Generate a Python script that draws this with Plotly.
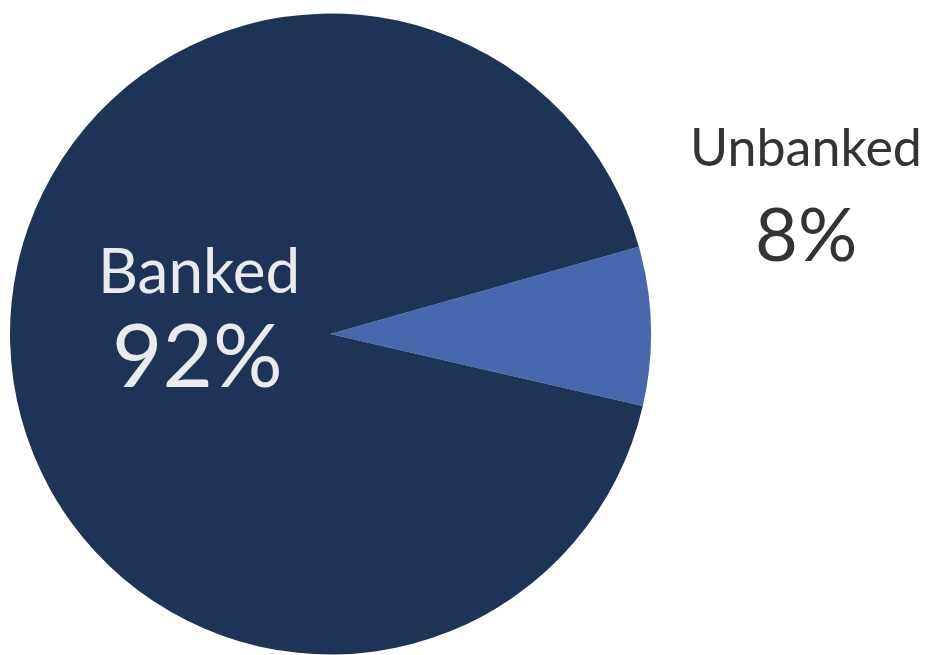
import plotly.graph_objects as go

labels = ["Unbanked", "Banked"]
values = [8, 92]
colors = ["#4868ad", "#1e3457"]

fig = go.Figure(go.Pie(
    labels=labels,
    values=values,
    marker=dict(colors=colors, line=dict(width=0)),
    sort=False,
    direction="clockwise",
    rotation=74.2,
    textinfo="none",
    hoverinfo="label+percent",
    domain=dict(x=[10 / 927, 651 / 927], y=[0.0, 642 / 655]),
    showlegend=False,
))

font_family = "Lato"
annots = [
    dict(idx=1, x=199 / 927, y=1 - 269 / 655, size=62, color="#e8ecf1", big=False),
    dict(idx=1, x=197 / 927, y=1 - 354 / 655, size=87, color="#e8ecf1", big=True),
    dict(idx=0, x=806 / 927, y=1 - 146 / 655, size=52, color="#333333", big=False),
    dict(idx=0, x=806 / 927, y=1 - 232 / 655, size=74, color="#333333", big=True),
]
for a in annots:
    txt = f"{values[a['idx']]}%" if a["big"] else labels[a["idx"]]
    fig.add_annotation(x=a["x"], y=a["y"], xref="paper", yref="paper",
                       text=txt, showarrow=False, xanchor="center", yanchor="middle",
                       font=dict(family=font_family, size=a["size"], color=a["color"]))

fig.update_layout(width=927, height=655,
                  margin=dict(l=0, r=0, t=0, b=0, autoexpand=False),
                  paper_bgcolor="white", plot_bgcolor="white")
fig.write_html("out.html", config={"displayModeBar": False},
               post_script="document.body.style.margin='0';")
